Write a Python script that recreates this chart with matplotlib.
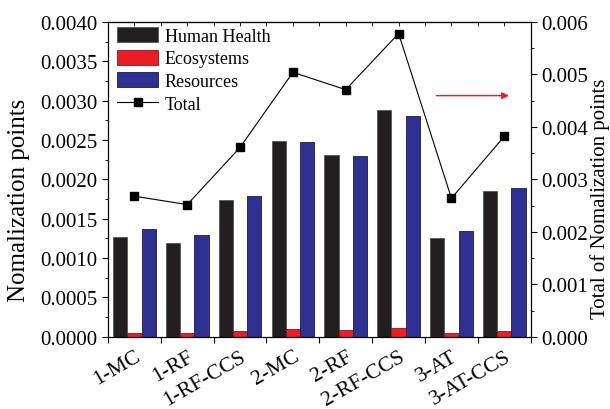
import numpy as np
import matplotlib.pyplot as plt
from matplotlib.ticker import FormatStrFormatter, MultipleLocator, FixedLocator

plt.rcParams['font.family'] = ['Liberation Serif', 'DejaVu Serif']

# Datos
escenarios = ["1-MC", "1-RF", "1-RF-CCS", "2-MC", "2-RF", "2-RF-CCS", "3-AT", "3-AT-CCS"]
salud = np.array([0.00127, 0.00119, 0.00174, 0.00249, 0.00231, 0.00288, 0.00125, 0.00185])
ecosistemas = np.array([0.00005, 0.00005, 0.00007, 0.00010, 0.00009, 0.00011, 0.00005, 0.00007])
recursos = np.array([0.00137, 0.00129, 0.00179, 0.00247, 0.00230, 0.00281, 0.00135, 0.00189])
total = np.array([0.00268, 0.00252, 0.00361, 0.00504, 0.00471, 0.00578, 0.00264, 0.00382])

x = np.arange(len(escenarios))
w = 0.27

fig = plt.figure(figsize=(6.1, 4.1), dpi=100)
ax = fig.add_axes([0.177, 0.176, 0.693, 0.768])
ax2 = ax.twinx()

b1 = ax.bar(x - w, salud, w, color="#231f20", edgecolor="#555555", linewidth=0.6, label="Human Health")
b2 = ax.bar(x, ecosistemas, w, color="#ed1c24", edgecolor="#8a1a1a", linewidth=0.6, label="Ecosystems")
b3 = ax.bar(x + w, recursos, w, color="#2e3192", edgecolor="#1a1a50", linewidth=0.6, label="Resources")
l1, = ax2.plot(x, total, color="black", linewidth=0.8, marker="s", markersize=5.5, label="Total")

ax.set_xlim(-0.5, 7.5)
ax.set_ylim(0, 0.004)
ax2.set_ylim(0, 0.006)

# eje x: marcas entre grupos, etiquetas en el centro
ax.xaxis.set_major_locator(FixedLocator(np.arange(-0.5, 8, 1)))
ax.xaxis.set_major_formatter(plt.NullFormatter())
ax.xaxis.set_minor_locator(FixedLocator(x))
ax.set_xticklabels(escenarios, minor=True, rotation=30, ha="right", rotation_mode="anchor", fontsize=15.5)
ax.tick_params(axis="x", which="major", direction="out", length=4, width=0.8)
ax.tick_params(axis="x", which="minor", length=0, pad=7)

top = ax.secondary_xaxis("top")
top.xaxis.set_major_locator(FixedLocator(np.arange(-0.5, 8, 0.5)))
top.xaxis.set_major_formatter(plt.NullFormatter())
top.tick_params(direction="in", length=3, width=0.6)

ax.yaxis.set_major_locator(MultipleLocator(0.0005))
ax.yaxis.set_minor_locator(MultipleLocator(0.00025))
ax.yaxis.set_major_formatter(FormatStrFormatter("%.4f"))
ax.tick_params(axis="y", which="major", direction="out", length=4, width=0.8, labelsize=15)
ax.tick_params(axis="y", which="minor", direction="out", length=2, width=0.6)

ax2.yaxis.set_major_locator(MultipleLocator(0.001))
ax2.yaxis.set_minor_locator(MultipleLocator(0.0005))
ax2.yaxis.set_major_formatter(FormatStrFormatter("%.3f"))
ax2.tick_params(axis="y", which="major", direction="out", length=4, width=0.8, labelsize=15)
ax2.tick_params(axis="y", which="minor", direction="out", length=2, width=0.6)

ax.set_ylabel("Nomalization points", fontsize=18)
ax.yaxis.set_label_coords(-0.185, 0.437)
ax2.set_ylabel("Total of Nomalization points", fontsize=15)
ax2.yaxis.set_label_coords(1.14, 0.44)

ax2.annotate("", xy=(0.955, 0.766), xytext=(0.77, 0.766), xycoords="axes fraction",
             arrowprops=dict(arrowstyle="-|>", color="#ed1c24", lw=1.0, mutation_scale=10))

ax2.legend(handles=[b1, b2, b3, l1], loc="upper left", bbox_to_anchor=(0.017, 0.99),
           frameon=False, fontsize=13, handlelength=2.3, handleheight=0.9,
           labelspacing=0.28, borderaxespad=0, borderpad=0.1, handletextpad=0.35)

fig.savefig("out.png", dpi=100)
